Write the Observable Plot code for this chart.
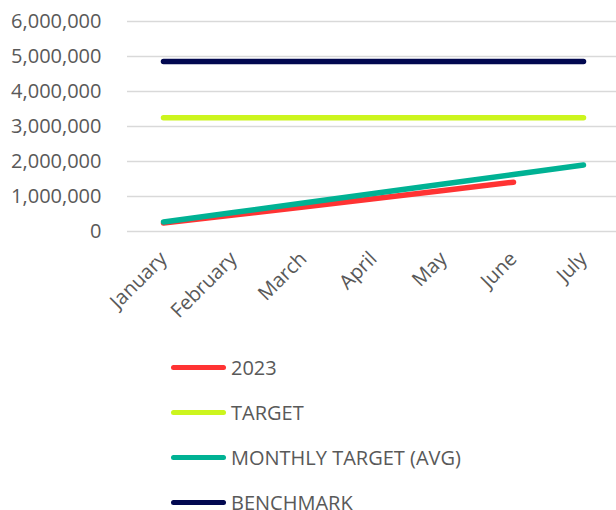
<!DOCTYPE html>
<html>
<head>
<meta charset="utf-8">
<script src="https://cdn.jsdelivr.net/npm/d3@7"></script>
<script src="https://cdn.jsdelivr.net/npm/@observablehq/plot@0.6"></script>
<style>
  html, body { margin: 0; padding: 0; background: #fff; }
  body { width: 616px; font-family: "Open Sans", sans-serif; color: #595959; }
  #legend { padding-top: 5px; }
  .row { display: flex; align-items: center; height: 45px; }
  .sw { margin-left: 171px; width: 55px; height: 5px; border-radius: 3px; }
  .lab { margin-left: 5px; font-size: 20px; line-height: 20px; }
</style>
</head>
<body>
<div id="chart"></div>
<div id="legend"></div>
<script>
const months = ["January", "February", "March", "April", "May", "June", "July"];
const sales2023 = [240000, 470000, 700000, 935000, 1170000, 1410000];
const target = [3250000, 3250000, 3250000, 3250000, 3250000, 3250000, 3250000];
const monthlyTarget = [272000, 543000, 815000, 1086000, 1358000, 1629000, 1900000];
const benchmark = [4860000, 4860000, 4860000, 4860000, 4860000, 4860000, 4860000];
const yTicks = [0, 1000000, 2000000, 3000000, 4000000, 5000000, 6000000];

const seriesNames = ["2023", "TARGET", "MONTHLY TARGET (AVG)", "BENCHMARK"];
const seriesColors = ["#FF3333", "#CCF51E", "#00B294", "#020850"];
const seriesValues = [sales2023, target, monthlyTarget, benchmark];

const rows = seriesValues.flatMap((vals, i) =>
  vals.map((v, j) => ({series: seriesNames[i], month: months[j], value: v}))
);

const chart = Plot.plot({
  width: 616,
  height: 340,
  marginLeft: 127,
  marginRight: 0,
  marginTop: 21,
  marginBottom: 109,
  style: {fontFamily: "Open Sans", fontSize: "20px", color: "#595959", background: "#fff"},
  x: {type: "point", domain: months, range: [162, 584], padding: 0},
  y: {domain: [0, 6000000]},
  color: {domain: seriesNames, range: seriesColors},
  marks: [
    Plot.ruleY(yTicks, {stroke: "#d9d9d9", strokeWidth: 1.5}),
    Plot.axisY({ticks: yTicks, tickFormat: d3.format(","), tickSize: 0, tickPadding: 26, fontSize: 20, fill: "#595959", label: null}),
    Plot.axisX({tickRotate: -45, tickSize: 0, tickPadding: 24, fontSize: 20, fill: "#595959", label: null}),
    ...seriesNames.map(name =>
      Plot.line(rows.filter(d => d.series === name), {
        x: "month", y: "value", stroke: "series",
        strokeWidth: 5.5, strokeLinecap: "round", strokeLinejoin: "round"
      })
    )
  ]
});
document.getElementById("chart").appendChild(chart);

const legend = document.getElementById("legend");
seriesNames.forEach((name, i) => {
  const row = document.createElement("div");
  row.className = "row";
  const sw = document.createElement("div");
  sw.className = "sw";
  sw.style.background = seriesColors[i];
  const lab = document.createElement("span");
  lab.className = "lab";
  lab.textContent = name;
  row.appendChild(sw);
  row.appendChild(lab);
  legend.appendChild(row);
});
</script>
</body>
</html>
